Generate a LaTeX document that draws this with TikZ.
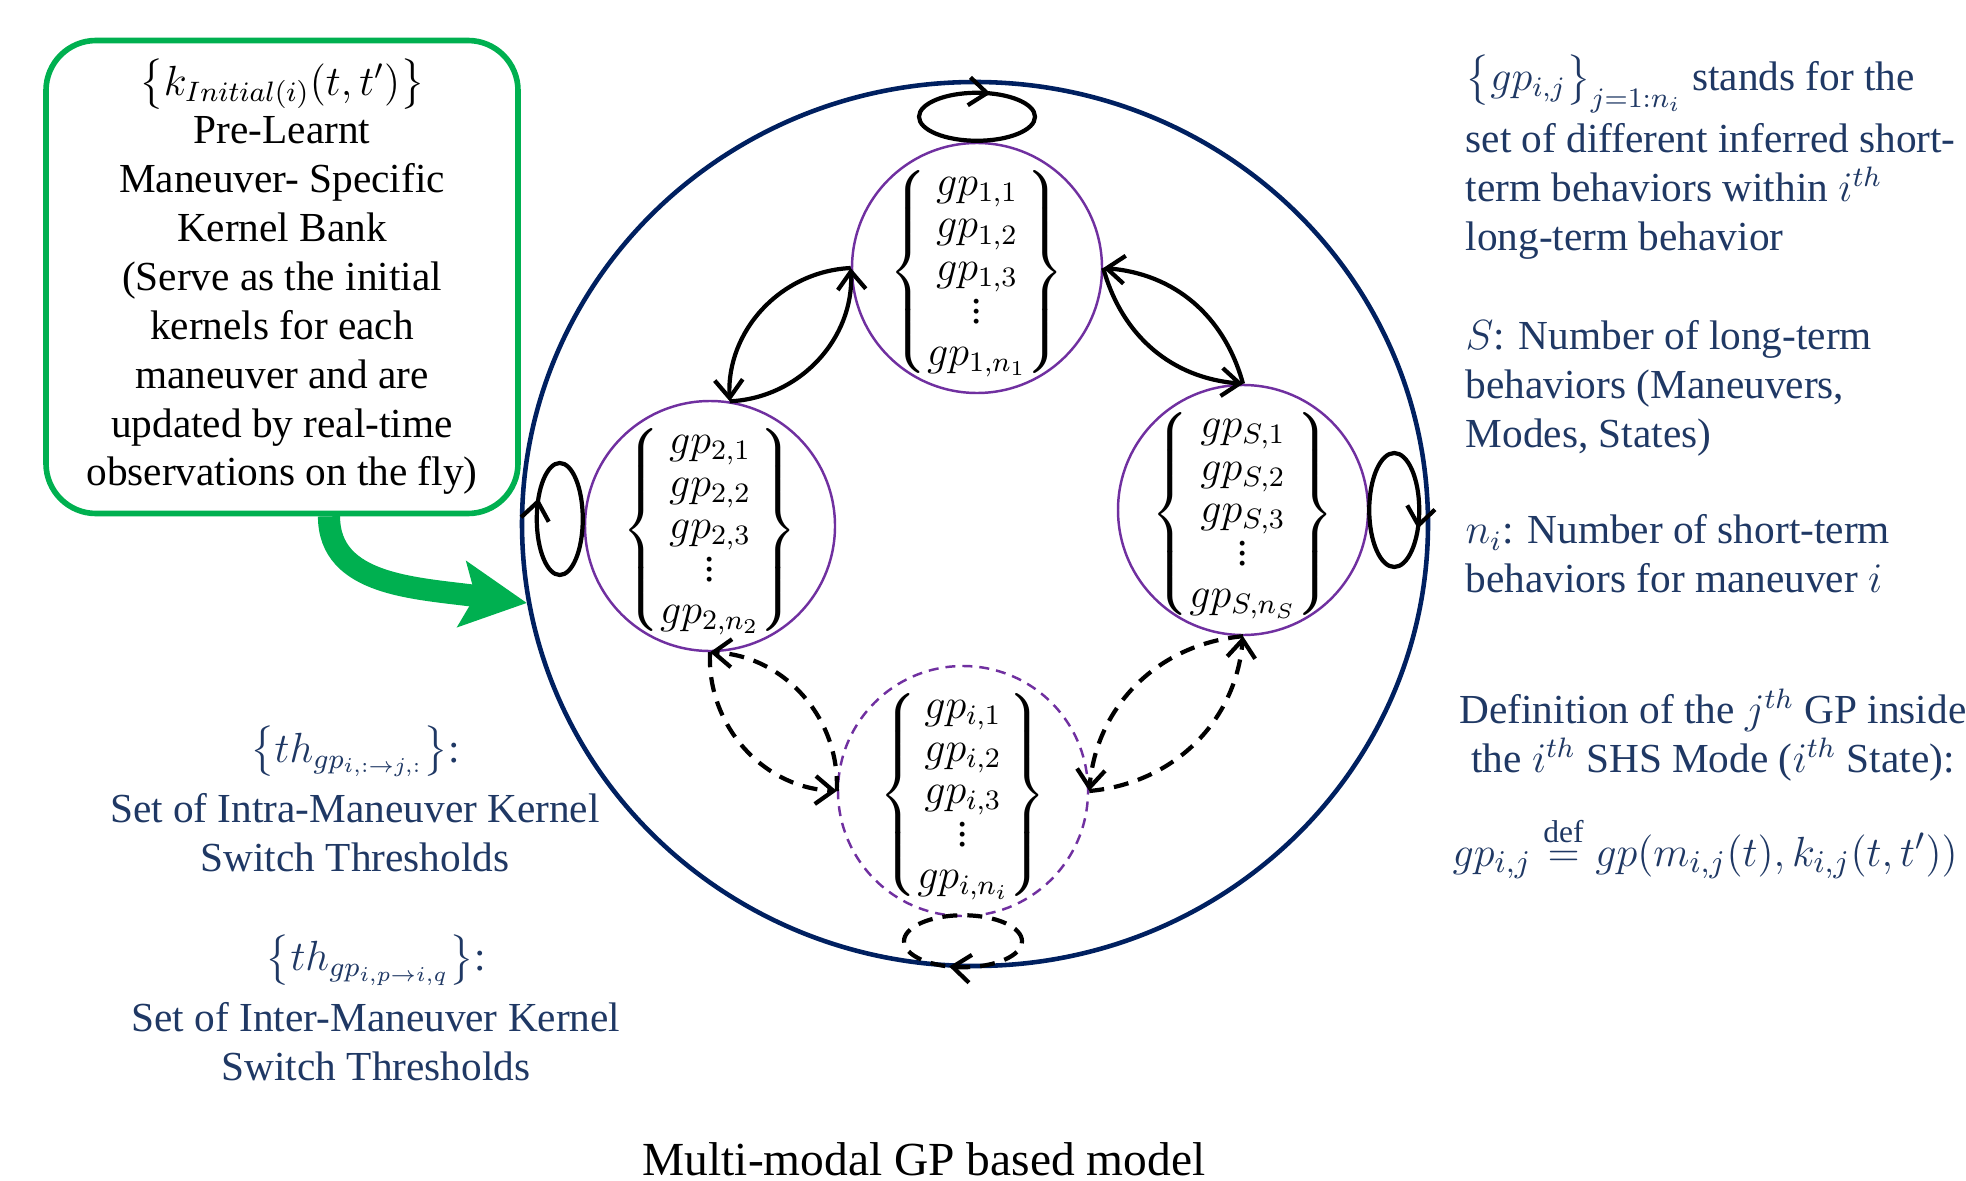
\documentclass[tikz,border=0pt]{standalone}
\usepackage{amsmath}
\usepackage{fontspec}
\setmainfont{Liberation Serif}
\usetikzlibrary{arrows.meta,shapes.geometric,decorations.markings}

\definecolor{navy}{RGB}{0,32,96}
\definecolor{textblue}{RGB}{31,56,100}
\definecolor{modepurple}{RGB}{112,48,160}
\definecolor{bankgreen}{RGB}{0,176,80}

% short vertical dots and the column of GPs inside one mode
\newcommand{\gpdots}{\vbox{\baselineskip2.8pt\lineskiplimit0pt\kern1pt\hbox{.}\hbox{.}\hbox{.}}}
\newcommand{\gpset}[1]{\renewcommand{\arraystretch}{0.87}$\left\{\begin{matrix} gp_{#1,1}\\ gp_{#1,2}\\ gp_{#1,3}\\ \gpdots\\ gp_{#1,n_{#1}}\end{matrix}\right\}$}

\tikzset{
    mode/.style={draw=modepurple, line width=0.7pt, circle, minimum size=2.5cm, inner sep=0pt},
    modedash/.style={mode, dash pattern=on 1mm off 0.7mm},
    link/.style={line width=1.2pt, -{Straight Barb[length=1.8mm,width=2.8mm]}},
    linkdash/.style={link, dash pattern=on 1.5mm off 1mm},
    selfloop/.style={line width=1.2pt,
        decoration={markings, mark=at position #1 with {\arrowreversed{Straight Barb[length=1.8mm,width=2.8mm]}}},
        postaction={decorate}},
    bank/.style={draw=bankgreen, line width=1.6pt, rounded corners=5mm, minimum width=4.72cm,
        minimum height=4.73cm, align=center, inner sep=0pt},
    grarrow/.style={draw=bankgreen, line width=6.3pt, -{Stealth[length=6.5mm,width=6.5mm,inset=1.3mm]}},
    note/.style={text=textblue, inner sep=0pt, align=left}
}

\begin{document}
\begin{tikzpicture}[font=\fontsize{11.75}{13.9}\selectfont]
        \useasboundingbox (0,0) rectangle (19.66,-11.81);

        % outer boundary
        \node[draw=navy, line width=1.3pt, ellipse, minimum width=9.06cm, minimum height=8.84cm, inner sep=0pt] (main) at (9.75,-5.24) {};

        % modes
        \foreach \n/\x/\y/\s in {m1/9.77/-2.68/1, m2/7.10/-5.26/2, mS/12.43/-5.10/S}{
            \node[mode] (\n) at (\x,\y) {};
            \node[inner sep=0pt] (\n txt) at ([yshift=-0.4mm]\n.center) {\gpset{\s}};
        }
        \node[modedash] (mi) at (9.63,-7.91) {};
        \node[inner sep=0pt] (mi txt) at ([yshift=-0.4mm]mi.center) {\gpset{i}};

        % self loops
        \draw[selfloop=0.2] ([yshift=2.5mm]m1.north) ellipse (0.58 and 0.24);
        \draw[selfloop=0.42] ([xshift=-2.4mm,yshift=0.7mm]m2.west) ellipse (0.23 and 0.56);
        \draw[selfloop=0.93] ([xshift=2.5mm]mS.east) ellipse (0.25 and 0.57);
        \draw[selfloop=0.7, dash pattern=on 1.5mm off 1mm] ([yshift=-2.4mm]mi.south) ellipse (0.59 and 0.26);

        % switches between modes
        \draw[link] (m1.west) to[bend right=45] (m2.81);
        \draw[link] (m2.81) to[bend right=45] (m1.west);
        \draw[link] (m1.east) to[bend right=35] (mS.north);
        \draw[link] (mS.north) to[bend right=35] (m1.east);
        \draw[linkdash] (m2.south) to[bend right=45] (mi.west);
        \draw[linkdash] (mi.west) to[bend right=45] (m2.south);
        \draw[linkdash] (mS.south) to[bend right=40] (mi.east);
        \draw[linkdash] (mi.east) to[bend right=40] (mS.south);

        % kernel bank
        \node[bank] (bank) at (2.82,-2.77) {$\big\{k_{Initial(i)}(t,t')\big\}$\\ Pre-Learnt\\ Maneuver- Specific\\ Kernel Bank\\ (Serve as the initial\\ kernels for each\\ maneuver and are\\ updated by real-time\\ observations on the fly)};
        \draw[grarrow] ([xshift=4.7mm]bank.south) .. controls +(0,-0.7) and +(-1.1,0.15) .. (main.190);

        % notes
        \node[note, anchor=north west] (setdef) at (14.65,-0.54) {$\big\{gp_{i,j}\big\}_{j=1:n_i}$ stands for the\\[2.2pt] set of different inferred short-\\ term behaviors within $i^{th}$\\ long-term behavior};
        \node[note, anchor=north west] (numS) at (14.65,-3.20) {$S$: Number of long-term\\ behaviors (Maneuvers,\\ Modes, States)};
        \node[note, anchor=north west] (numn) at (14.65,-5.14) {$n_i$: Number of short-term\\ behaviors for maneuver $i$};
        \node[note, align=center, anchor=north] (gpdef) at (17.13,-6.88) {Definition of the $j^{th}$ GP inside\\ the $i^{th}$ SHS Mode ($i^{th}$ State):};
        \node[note, anchor=base west, font=\fontsize{12.8}{15}\selectfont] (gpeq) at (14.52,-8.66) {$gp_{i,j}\stackrel{\mathrm{def}}{=}gp(m_{i,j}(t),k_{i,j}(t,t'))$};

        \node[note, align=center, anchor=north] (intra) at (3.55,-7.255) {$\left\{th_{gp_{i,:\rightarrow j,:}}\right\}$:\\[3.4pt] Set of Intra-Maneuver Kernel\\ Switch Thresholds};
        \node[note, align=center, anchor=north] (inter) at (3.76,-9.34) {$\left\{th_{gp_{i,p\rightarrow i,q}}\right\}$:\\[3.4pt] Set of Inter-Maneuver Kernel\\ Switch Thresholds};

        \node[anchor=base, font=\fontsize{13.5}{16}\selectfont] (caption) at (9.24,-11.75) {Multi-modal GP based model};
\end{tikzpicture}
\end{document}
